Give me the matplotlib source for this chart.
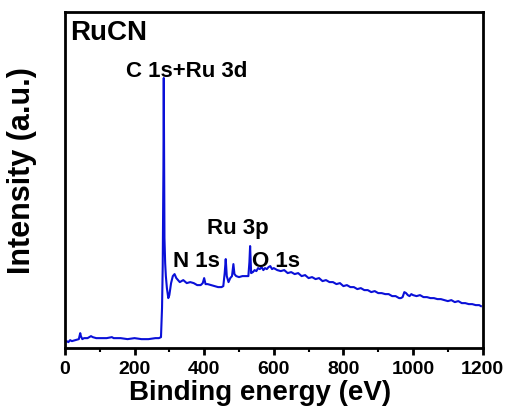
import numpy as np
import matplotlib.pyplot as plt

plt.rcParams['font.family'] = ['Liberation Sans', 'DejaVu Sans']
plt.rcParams['font.weight'] = 'bold'

# survey spectrum, binding energy (eV) vs intensity (a.u.)
energy = [0, 5, 10, 15, 20, 30, 40, 44, 46, 50, 55, 65, 75, 80, 90, 100, 120, 135, 140,
          160, 180, 200, 220, 240, 260, 270, 276, 279, 281, 283, 284, 285, 286, 288, 290,
          293, 297, 300, 305, 310, 315, 320, 330, 340, 350, 360, 370, 380, 390, 396, 400,
          404, 410, 420, 430, 440, 450, 455, 459, 462, 465, 470, 475, 480, 484, 487, 492,
          500, 510, 520, 527, 530, 532, 535, 540, 545, 550, 555, 560, 565, 570, 575, 580,
          585, 590, 595, 600, 610, 620, 630, 640, 650, 660, 670, 680, 690, 700, 710, 720,
          730, 740, 750, 760, 770, 780, 790, 800, 810, 820, 830, 840, 850, 860, 870, 880,
          890, 900, 910, 920, 930, 940, 950, 960, 965, 970, 975, 980, 985, 990, 995, 1000,
          1010, 1020, 1030, 1040, 1050, 1060, 1070, 1080, 1090, 1100, 1110, 1120, 1130,
          1140, 1150, 1160, 1170, 1180, 1190, 1195]
intensity = [6, 7, 6, 8, 7, 8, 9, 15, 12, 9, 10, 10, 12, 11, 10, 10, 10, 11, 10,
             10, 9, 10, 9, 9, 10, 10, 11, 40, 82, 180, 270, 200, 110, 85, 72,
             60, 50, 53, 65, 72, 74, 70, 66, 68, 65, 66, 65, 63, 63, 65, 70,
             64, 64, 63, 62, 61, 61, 62, 75, 89, 72, 66, 70, 72, 84, 74, 72,
             71, 72, 72, 72, 86, 102, 75, 76, 78, 77, 80, 79, 81, 78, 80, 79,
             81, 82, 79, 80, 78, 77, 78, 75, 76, 74, 75, 72, 73, 70, 71, 69,
             70, 67, 68, 66, 66, 64, 65, 62, 63, 61, 61, 59, 60, 58, 58, 56,
             57, 55, 55, 54, 54, 52, 52, 50, 50, 51, 56, 55, 53, 52, 54, 53,
             52, 53, 51, 51, 50, 50, 49, 49, 48, 47, 48, 46, 47,
             45, 45, 44, 44, 43, 43, 42]

fig, ax = plt.subplots(figsize=(5.07, 4.12), dpi=100)
fig.subplots_adjust(left=0.128, right=0.952, top=0.971, bottom=0.155)

ax.plot(energy, intensity, color='#0a10d8', lw=1.5)

ax.set_xlim(0, 1200)
ax.set_ylim(0, 336)
ax.set_xticks(np.arange(0, 1201, 200))
ax.set_xticks(np.arange(100, 1200, 200), minor=True)
ax.set_yticks([])
ax.tick_params(axis='x', which='major', direction='out', length=5, width=2, labelsize=14, pad=4)
ax.tick_params(axis='x', which='minor', direction='out', length=3, width=1.5)
for lab in ax.get_xticklabels():
    lab.set_fontweight('bold')
for sp in ax.spines.values():
    sp.set_linewidth(2)

ax.set_xlabel('Binding energy (eV)', fontsize=20, fontweight='bold')
ax.xaxis.set_label_coords(0.468, -0.095)
ax.xaxis.label.set_va('top')
ax.set_ylabel('Intensity (a.u.)', fontsize=22, fontweight='bold')
ax.yaxis.set_label_coords(-0.067, 0.527)

ax.text(0.012, 0.975, 'RuCN', transform=ax.transAxes, fontsize=20, fontweight='bold', va='top')
ax.text(175, 271, 'C 1s+Ru 3d', fontsize=16, fontweight='bold', ha='left', va='baseline')
ax.text(311, 81, 'N 1s', fontsize=16, fontweight='bold', ha='left', va='baseline')
ax.text(409, 114, 'Ru 3p', fontsize=16, fontweight='bold', ha='left', va='baseline')
ax.text(538, 81, 'O 1s', fontsize=16, fontweight='bold', ha='left', va='baseline')

fig.savefig('out.png', dpi=100)
